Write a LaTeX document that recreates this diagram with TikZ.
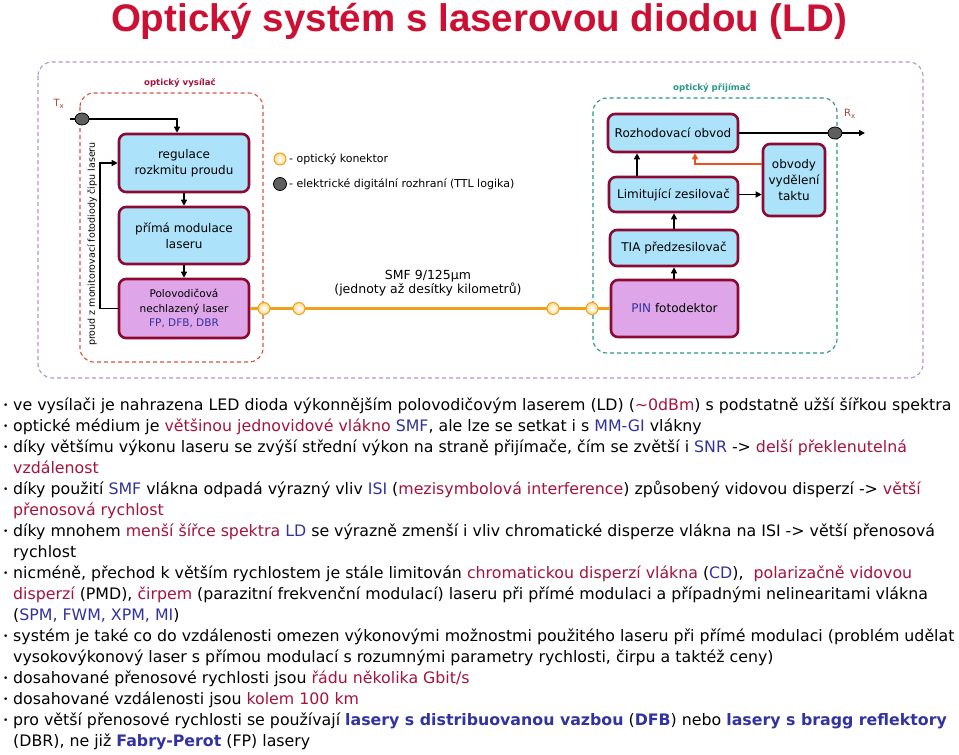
\documentclass[tikz,border=0pt]{standalone}
\usepackage{fontspec}
\setmainfont{DejaVu Sans}
\newfontfamily\titlefont{Liberation Sans}
\usetikzlibrary{arrows.meta,shapes.geometric}
\definecolor{ttl}{RGB}{204,16,51}
\definecolor{hl}{RGB}{165,20,60}
\definecolor{bl}{RGB}{50,50,160}
\definecolor{bord}{RGB}{140,10,50}
\definecolor{lblue}{RGB}{172,226,250}
\definecolor{lpurp}{RGB}{222,165,232}
\definecolor{outerc}{RGB}{190,145,200}
\definecolor{txc}{RGB}{215,85,60}
\definecolor{rxc}{RGB}{40,150,140}
\definecolor{fib}{RGB}{240,160,30}
\definecolor{conf}{RGB}{255,230,165}
\definecolor{elc}{RGB}{95,95,95}
\definecolor{clk}{RGB}{240,80,30}
\newcommand\R[1]{\textcolor{hl}{#1}}
\newcommand\B[1]{\textcolor{bl}{#1}}
\newcommand\BB[1]{\textcolor{bl}{\bfseries #1}}
\newcommand\bul{\makebox[10pt][l]{\fontsize{9}{9}\selectfont\raisebox{1.5pt}{•}}}
\tikzset{
  blk/.style={draw=bord, line width=2.6pt, rounded corners=7pt, fill=lblue, align=center, inner sep=1pt, font=\fontsize{12}{16}\selectfont},
  pblk/.style={blk, fill=lpurp},
  arr/.style={draw=black, line width=1.3pt, -{Triangle[length=6pt,width=6pt]}},
  clkarr/.style={draw=clk, line width=1.6pt, -{Triangle[length=6pt,width=6pt]}},
  fiber/.style={draw=fib, line width=2.6pt},
  con/.style={circle, draw=fib, line width=1pt, inner sep=0pt, minimum size=12pt, inner color=white, outer color=conf!90!orange},
  elec/.style={ellipse, draw=black, line width=0.8pt, fill=elc, inner sep=0pt, minimum width=14pt, minimum height=12pt},
  txline/.style={inner sep=0pt, font=\fontsize{15.8}{18}\selectfont},
  legend/.style={inner sep=0pt, font=\fontsize{11}{12}\selectfont},
  grp/.style={font=\bfseries\fontsize{8.6}{10}\selectfont, inner sep=0pt},
}
\begin{document}
\begin{tikzpicture}[x=1pt,y=-1pt]
\path[use as bounding box, fill=white] (0,0) rectangle (959,755);
% title
\node[font=\titlefont\bfseries\fontsize{38.5}{40}\selectfont, text=ttl, inner sep=0pt] (title) at (479,21) {Optický systém s laserovou diodou (LD)};
% dashed frames
\draw[outerc, line width=1.1pt, dash pattern=on 4pt off 3pt, rounded corners=14pt] (38,62) rectangle (923,378);
\draw[txc, line width=1.1pt, dash pattern=on 4pt off 3pt, rounded corners=14pt] (80,93) rectangle (263,362);
\draw[rxc, line width=1.1pt, dash pattern=on 4pt off 3pt, rounded corners=14pt] (593,98) rectangle (837,353);
\node[grp, text=hl] (lvys) at (180,83) {optický vysílač};
\node[grp, text=rxc] (lpri) at (712,88) {optický přijímač};
\node[inner sep=0pt, text=txc!80!black, font=\fontsize{10}{10}\selectfont] (tx) at (59,104) {T\textsubscript{x}};
\node[inner sep=0pt, text=txc!80!black, font=\fontsize{10}{10}\selectfont] (rx) at (850,114) {R\textsubscript{x}};
% transmitter blocks
\node[blk, minimum width=130pt, minimum height=58pt] (b1) at (184,163) {regulace\\rozkmitu proudu};
\node[blk, minimum width=130pt, minimum height=57pt] (b2) at (184,235.5) {přímá modulace\\laseru};
\node[pblk, minimum width=130pt, minimum height=59pt, font=\fontsize{10.5}{14.5}\selectfont] (b3) at (184,308.5) {Polovodičová\\nechlazený laser\\\B{FP, DFB, DBR}};
% receiver blocks
\node[blk, minimum width=130pt, minimum height=38pt] (roz) at (673,133) {Rozhodovací obvod};
\node[blk, minimum width=129pt, minimum height=35pt] (lim) at (673.5,194.5) {Limitující zesilovač};
\node[blk, minimum width=128pt, minimum height=36pt] (tia) at (674,248) {TIA předzesilovač};
\node[pblk, minimum width=127pt, minimum height=57pt] (pin) at (674.5,308.5) {\B{PIN} fotodektor};
\node[blk, minimum width=62pt, minimum height=72pt] (obv) at (794,180) {obvody\\vydělení\\taktu};
% arrows transmitter
\coordinate (txs) at (70,119);
\coordinate (txk) at (177,119);
\draw[arr] (txs) -- (txk) -- (txk |- b1.north);
\node[elec] (txe) at (82,119) {};
\draw[arr] (b1.south) -- (b2.north);
\draw[arr] (b2.south) -- (b3.north);
\coordinate (fb) at (100,240);
\draw[arr] (b3.west) -| (fb) |- (b1.west);
\node[rotate=90, inner sep=0pt, font=\fontsize{9.5}{11}\selectfont] (mon) at (92,244) {proud z monitorovací fotodiody čipu laseru};
% fiber
\draw[fiber] (b3.east) -- (pin.west);
\node[con] (c1) at (264,308.5) {};
\node[con] (c2) at (299,308.5) {};
\node[con] (c3) at (553,308.5) {};
\node[con] (c4) at (592,308.5) {};
\node[font=\fontsize{12.5}{14}\selectfont, align=center, inner sep=0pt] (smf) at (428,283) {SMF 9/125μm\\(jednoty až desítky kilometrů)};
% legend
\node[con] (lg1) at (280,159) {};
\node[legend, anchor=west] (lt1) at (289,159) {- optický konektor};
\node[elec, minimum width=13pt, minimum height=13pt] (lg2) at (280,184) {};
\node[legend, anchor=west] (lt2) at (289,184) {- elektrické digitální rozhraní (TTL logika)};
% arrows receiver
\draw[arr] (pin.north -| tia.south) -- (tia.south);
\draw[arr] (tia.north) -- (tia.north |- lim.south);
\coordinate (lr) at (637,0);
\draw[arr] (lr |- lim.north) -- (lr |- roz.south);
\draw[arr] (lim.east) -- (lim.east -| obv.west);
\coordinate (ck) at (695,164);
\draw[clkarr] (obv.west |- ck) -- (ck) -- (ck |- roz.south);
\coordinate (rxend) at (865,133);
\draw[arr] (roz.east) -- (rxend);
\node[elec] (rxe) at (835,133) {};
% text lines
\node[txline, anchor=base west] (t1) at (3,410) {\bul ve vysílači je nahrazena LED dioda výkonnějším polovodičovým laserem (LD) (\R{\textasciitilde 0dBm}) s podstatně užší šířkou spektra};
\node[txline, anchor=base west] (t2) at (3,431) {\bul optické médium je \R{většinou jednovidové vlákno} \B{SMF}, ale lze se setkat i s \B{MM-GI} vlákny};
\node[txline, anchor=base west] (t3) at (3,452) {\bul díky většímu výkonu laseru se zvýší střední výkon na straně přijímače, čím se zvětší i \B{SNR} -> \R{delší překlenutelná}};
\node[txline, anchor=base west] (t4) at (13,473) {\R{vzdálenost}};
\node[txline, anchor=base west] (t5) at (3,494) {\bul díky použití \B{SMF} vlákna odpadá výrazný vliv \B{ISI} (\R{mezisymbolová interference}) způsobený vidovou disperzí -> \R{větší}};
\node[txline, anchor=base west] (t6) at (13,515) {\R{přenosová rychlost}};
\node[txline, anchor=base west] (t7) at (3,536) {\bul díky mnohem \R{menší šířce spektra} \B{LD} se výrazně zmenší i vliv chromatické disperze vlákna na ISI -> větší přenosová};
\node[txline, anchor=base west] (t8) at (13,557) {rychlost};
\node[txline, anchor=base west] (t9) at (3,578) {\bul nicméně, přechod k větším rychlostem je stále limitován \R{chromatickou disperzí vlákna} (\B{CD}),\ \ \R{polarizačně vidovou}};
\node[txline, anchor=base west] (t10) at (13,599) {\R{disperzí} (PMD), \R{čirpem} (parazitní frekvenční modulací) laseru při přímé modulaci a případnými nelinearitami vlákna};
\node[txline, anchor=base west] (t11) at (13,620) {(\B{SPM, FWM, XPM, MI})};
\node[txline, anchor=base west] (t12) at (3,641) {\bul systém je také co do vzdálenosti omezen výkonovými možnostmi použitého laseru při přímé modulaci (problém udělat};
\node[txline, anchor=base west] (t13) at (13,662) {vysokovýkonový laser s přímou modulací s rozumnými parametry rychlosti, čirpu a taktéž ceny)};
\node[txline, anchor=base west] (t14) at (3,683) {\bul dosahované přenosové rychlosti jsou \R{řádu několika Gbit/s}};
\node[txline, anchor=base west] (t15) at (3,704) {\bul dosahované vzdálenosti jsou \R{kolem 100 km}};
\node[txline, anchor=base west] (t16) at (3,725) {\bul pro větší přenosové rychlosti se používají \BB{lasery s distribuovanou vazbou} (\BB{DFB}) nebo \BB{lasery s bragg reflektory}};
\node[txline, anchor=base west] (t17) at (13,746) {(DBR), ne již \BB{Fabry-Perot} (FP) lasery};
\end{tikzpicture}
\end{document}
